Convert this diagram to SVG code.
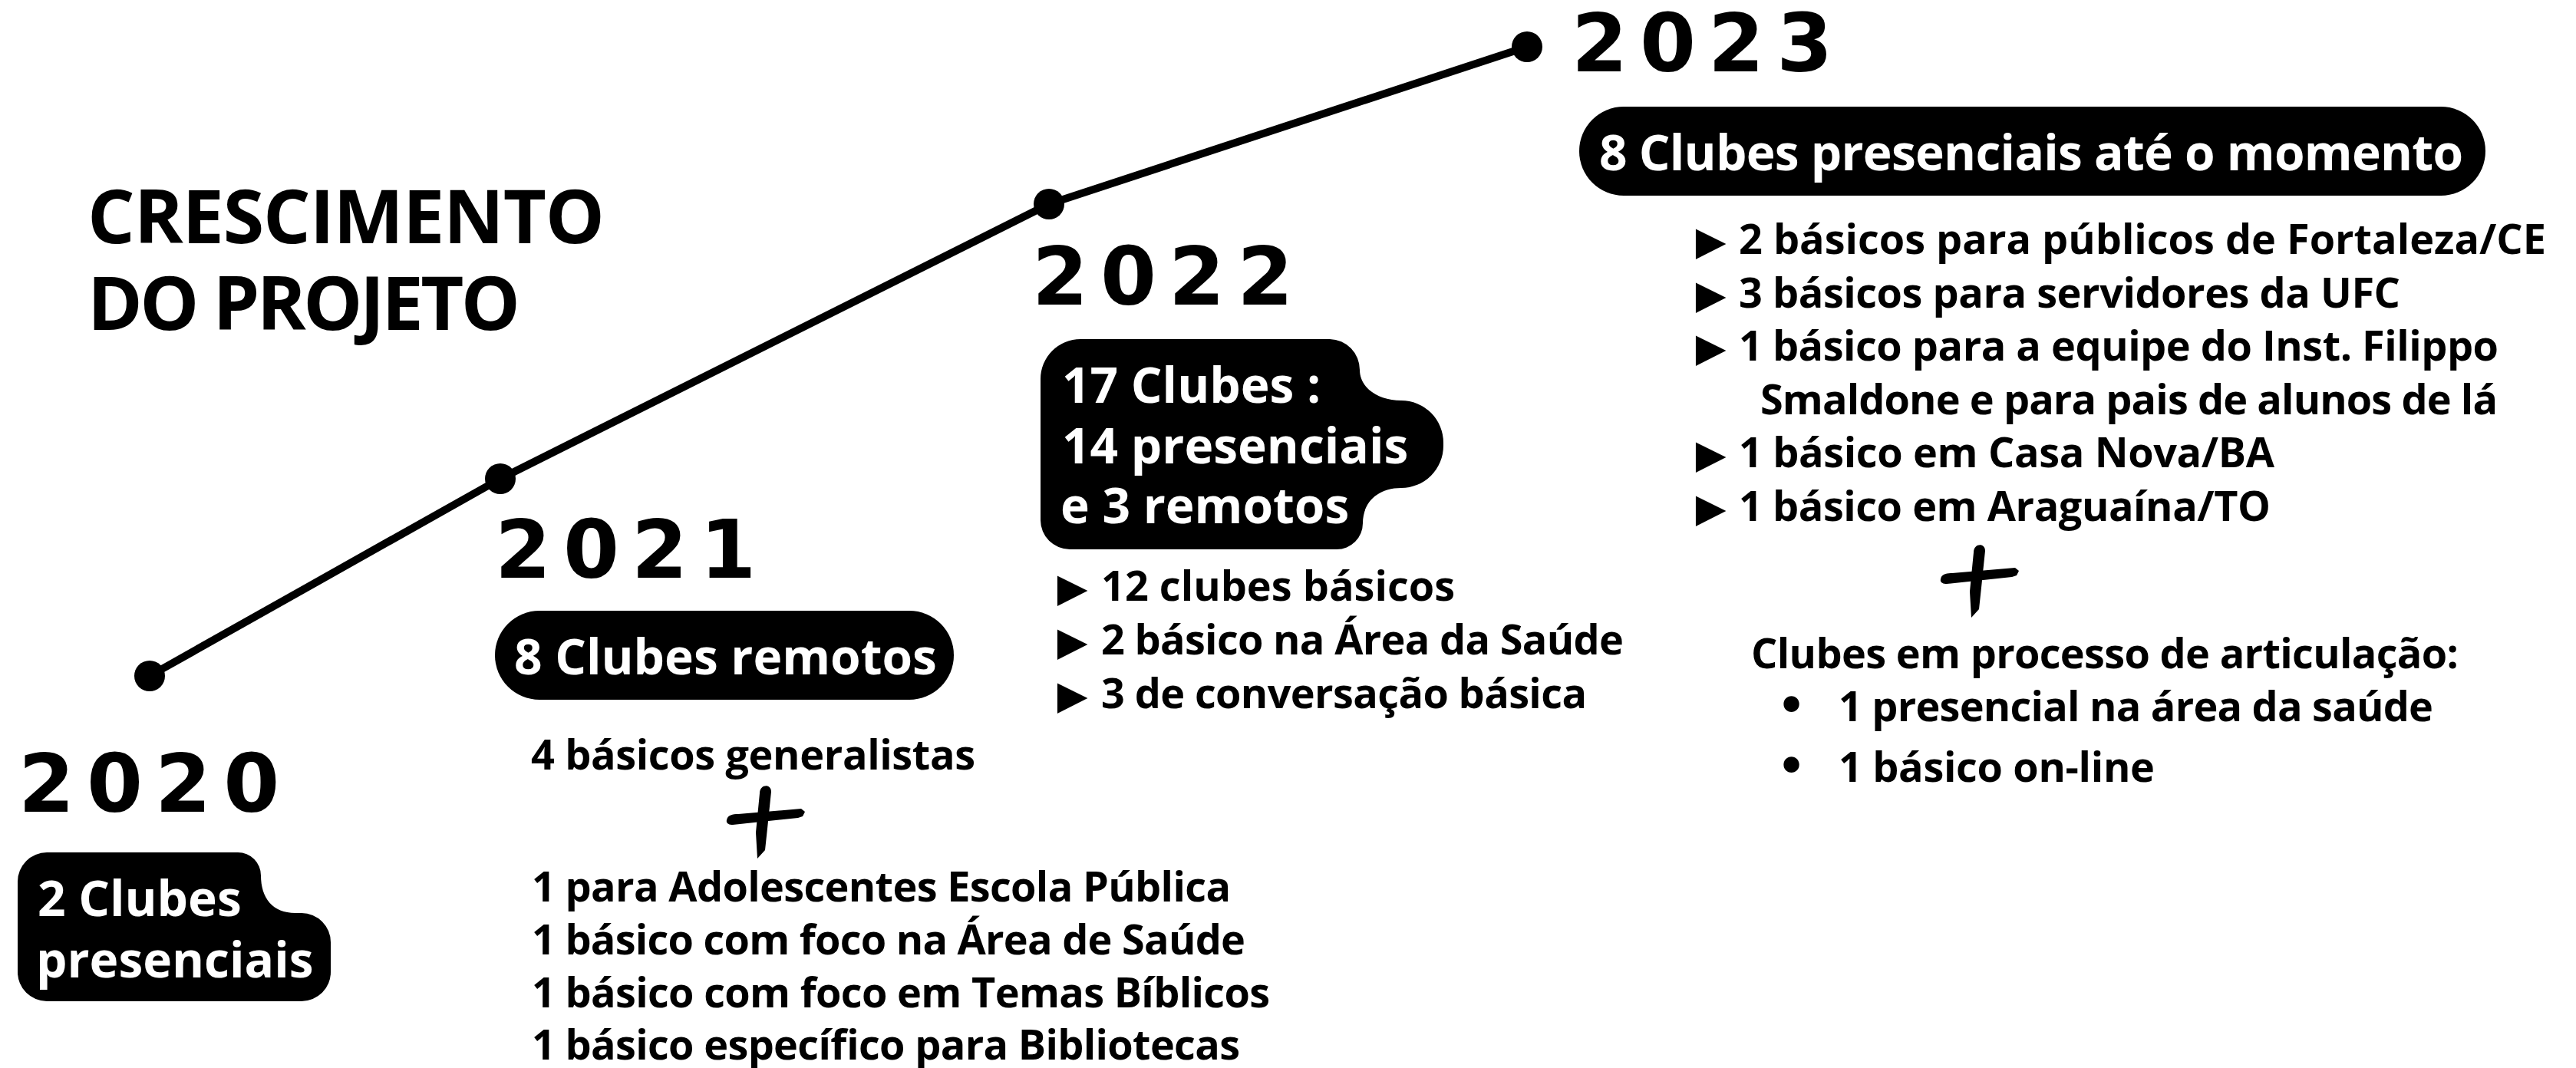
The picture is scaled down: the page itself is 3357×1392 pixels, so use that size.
<svg xmlns="http://www.w3.org/2000/svg" width="3357" height="1392" viewBox="0 0 3357 1392">
<style>
.bg{fill:#ffffff}
.title{font-family:"Open Sans","Liberation Sans",sans-serif;font-weight:700;font-size:97px;fill:#000}
.year{font-family:"DejaVu Sans","Liberation Sans",sans-serif;font-weight:700;font-size:105px;letter-spacing:16px;fill:#000}
.pill{fill:#000}
.ptxt{font-family:"Open Sans","Liberation Sans",sans-serif;font-weight:700;font-size:64px;fill:#fff}
.item{font-family:"Open Sans","Liberation Sans",sans-serif;font-weight:700;font-size:54px;fill:#000}
.tri{font-family:"Liberation Sans","DejaVu Sans",sans-serif;font-weight:400;font-size:66px}
.bul{font-family:"DejaVu Sans",sans-serif;font-weight:700;font-size:58px}
.line{fill:none;stroke:#000;stroke-width:10;stroke-linejoin:round}
.dot{fill:#000}
</style>
<defs>
<g id="plus">
<path d="M990,1034 C990,1022 1005,1021 1005,1032 L1000,1080 L997,1108 L987,1119 L985,1085 Z" fill="#000"/>
<path d="M947,1069 C948,1062 955,1061 962,1061 L1044,1054 L1049,1058 L1046,1064 L1040,1066 L955,1075 C950,1075 946,1073 947,1069 Z" fill="#000"/>
</g>
</defs>
<rect class="bg" x="0" y="0" width="3357" height="1392"/>

<g id="connectors">
<polyline class="line" points="195,881 652,624 1367,266 1990,61"/>
</g>

<g id="title">
<text class="title" x="114" y="317" textLength="674">CRESCIMENTO</text>
<text class="title" x="114" y="430" textLength="564">DO PROJETO</text>
</g>

<g id="node-2020">
<circle class="dot" cx="195" cy="881" r="20"/>
<text class="year" x="24" y="1058">2020</text>
<path class="pill" d="M61,1111 H310 A30 30 0 0 1 340,1141 C340,1170 355,1190 385,1190 H393 A38 38 0 0 1 431,1228 V1267 A38 38 0 0 1 393,1305 H61 A38 38 0 0 1 23,1267 V1149 A38 38 0 0 1 61,1111 Z"/>
<text class="ptxt" x="49" y="1194">2 Clubes</text>
<text class="ptxt" x="47" y="1274">presenciais</text>
</g>

<g id="node-2021">
<circle class="dot" cx="652" cy="624" r="20"/>
<text class="year" x="645" y="753">2021</text>
<rect class="pill" x="645" y="796" width="598" height="116" rx="58" ry="58"/>
<text class="ptxt" x="670" y="879">8 Clubes remotos</text>
<text class="item" x="692" y="1003" textLength="579">4 básicos generalistas</text>
<use href="#plus"/>
<text class="item" x="693" y="1175" textLength="911">1 para Adolescentes Escola Pública</text>
<text class="item" x="693" y="1244" textLength="930">1 básico com foco na Área de Saúde</text>
<text class="item" x="693" y="1313" textLength="962">1 básico com foco em Temas Bíblicos</text>
<text class="item" x="693" y="1381" textLength="923">1 básico específico para Bibliotecas</text>
</g>

<g id="node-2022">
<circle class="dot" cx="1367" cy="266" r="20"/>
<text class="year" x="1345" y="397">2022</text>
<path class="pill" d="M1408,442 H1733 A40 40 0 0 1 1772,482 C1772,505 1795,522 1826,522 A55 55 0 0 1 1881,577 V581 A55 55 0 0 1 1826,636 C1795,636 1776,655 1776,682 A34 34 0 0 1 1742,716 H1394 A38 38 0 0 1 1356,678 V494 A52 52 0 0 1 1408,442 Z"/>
<text class="ptxt" x="1384" y="525">17 Clubes :</text>
<text class="ptxt" x="1384" y="604">14 presenciais</text>
<text class="ptxt" x="1382" y="682">e 3 remotos</text>
<text class="item"><tspan class="tri" x="1365" y="789">►</tspan><tspan x="1435" y="783" textLength="461">12 clubes básicos</tspan></text>
<text class="item"><tspan class="tri" x="1365" y="859">►</tspan><tspan x="1435" y="853" textLength="681">2 básico na Área da Saúde</tspan></text>
<text class="item"><tspan class="tri" x="1365" y="929">►</tspan><tspan x="1435" y="923" textLength="633">3 de conversação básica</tspan></text>
</g>

<g id="node-2023">
<circle class="dot" cx="1990" cy="61" r="20"/>
<text class="year" x="2048" y="93">2023</text>
<rect class="pill" x="2058" y="139" width="1181" height="116" rx="58" ry="58"/>
<text class="ptxt" x="2084" y="222" textLength="1126">8 Clubes presenciais até o momento</text>
<text class="item"><tspan class="tri" x="2197" y="337">►</tspan><tspan x="2266" y="331" textLength="1052">2 básicos para públicos de  Fortaleza/CE</tspan></text>
<text class="item"><tspan class="tri" x="2197" y="407">►</tspan><tspan x="2266" y="401" textLength="862">3 básicos para servidores da UFC</tspan></text>
<text class="item"><tspan class="tri" x="2197" y="476">►</tspan><tspan x="2266" y="470" textLength="990">1 básico para a equipe do Inst. Filippo</tspan></text>
<text class="item" x="2294" y="540" textLength="961">Smaldone e para pais de alunos de lá</text>
<text class="item"><tspan class="tri" x="2197" y="615">►</tspan><tspan x="2266" y="609" textLength="698">1 básico em Casa Nova/BA</tspan></text>
<text class="item"><tspan class="tri" x="2197" y="685">►</tspan><tspan x="2266" y="679" textLength="693">1 básico em Araguaína/TO</tspan></text>
<use href="#plus" transform="translate(1582,-314)"/>
<text class="item" x="2282" y="871" textLength="922">Clubes em processo de articulação:</text>
<text class="item"><tspan class="bul" x="2316" y="940">•</tspan><tspan x="2396" y="940" textLength="775">1 presencial na área da saúde</tspan></text>
<text class="item"><tspan class="bul" x="2316" y="1019">•</tspan><tspan x="2396" y="1019" textLength="412">1 básico on-line</tspan></text>
</g>
</svg>
